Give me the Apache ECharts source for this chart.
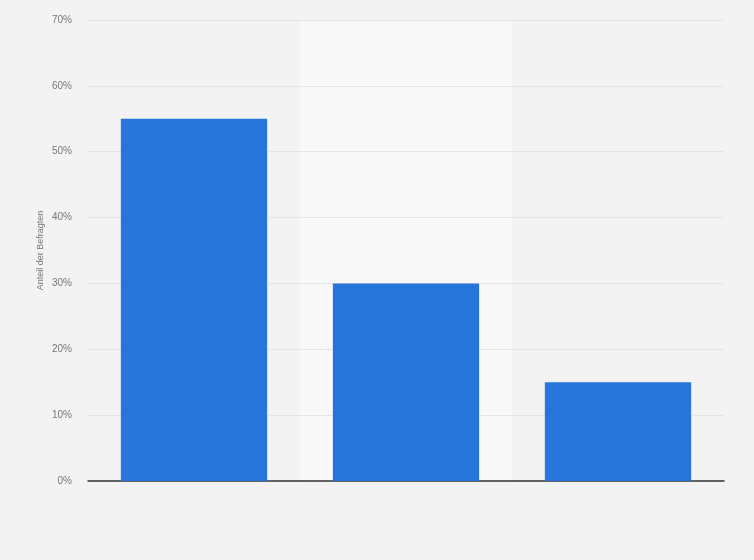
<!DOCTYPE html>
<html>
<head>
<meta charset="utf-8">
<script src="https://cdn.jsdelivr.net/npm/echarts@6/dist/echarts.min.js"></script>
<style>
  html, body { margin: 0; padding: 0; background: #f3f3f3; }
  #chart { width: 754px; height: 560px; }
</style>
</head>
<body>
<div id="chart"></div>
<script>
// categories are not labelled in the picture
var categories = ['A', 'B', 'C'];
var shares = [55, 30, 15];
var yTicks = [0, 10, 20, 30, 40, 50, 60, 70];

var myChart = echarts.init(document.getElementById('chart'), null, { renderer: 'canvas' });

var option = {
  backgroundColor: '#f3f3f3',
  animation: false,
  grid: { left: 88, right: 30, top: 20, bottom: 79 },
  xAxis: {
    type: 'category',
    data: categories,
    z: 0,
    axisLine: { lineStyle: { color: '#333', width: 1.5 } },
    axisTick: { show: false },
    axisLabel: { show: false },
    splitArea: {
      show: true,
      areaStyle: { color: ['rgba(0,0,0,0)', '#f8f8f8'] }
    }
  },
  yAxis: {
    type: 'value',
    z: 1,
    min: yTicks[0],
    max: yTicks[yTicks.length - 1],
    interval: 10,
    name: 'Anteil der Befragten',
    nameLocation: 'middle',
    nameGap: 43,
    nameMoveOverlap: false,
    nameTextStyle: { color: '#777', fontSize: 9, fontFamily: 'Arial, Liberation Sans, sans-serif' },
    axisLine: { show: false },
    axisTick: { show: false },
    axisLabel: {
      formatter: '{value}%',
      color: '#777',
      fontSize: 10,
      margin: 16,
      fontFamily: 'Arial, Liberation Sans, sans-serif'
    },
    splitLine: { showMinLine: false, lineStyle: { color: '#d4d4d4', type: 'dotted', width: 1 } }
  },
  series: [
    {
      type: 'bar',
      z: 2,
      data: shares,
      barWidth: '69%',
      itemStyle: { color: '#2775db' }
    }
  ]
};

myChart.setOption(option);
window.addEventListener('resize', myChart.resize);
</script>
</body>
</html>
